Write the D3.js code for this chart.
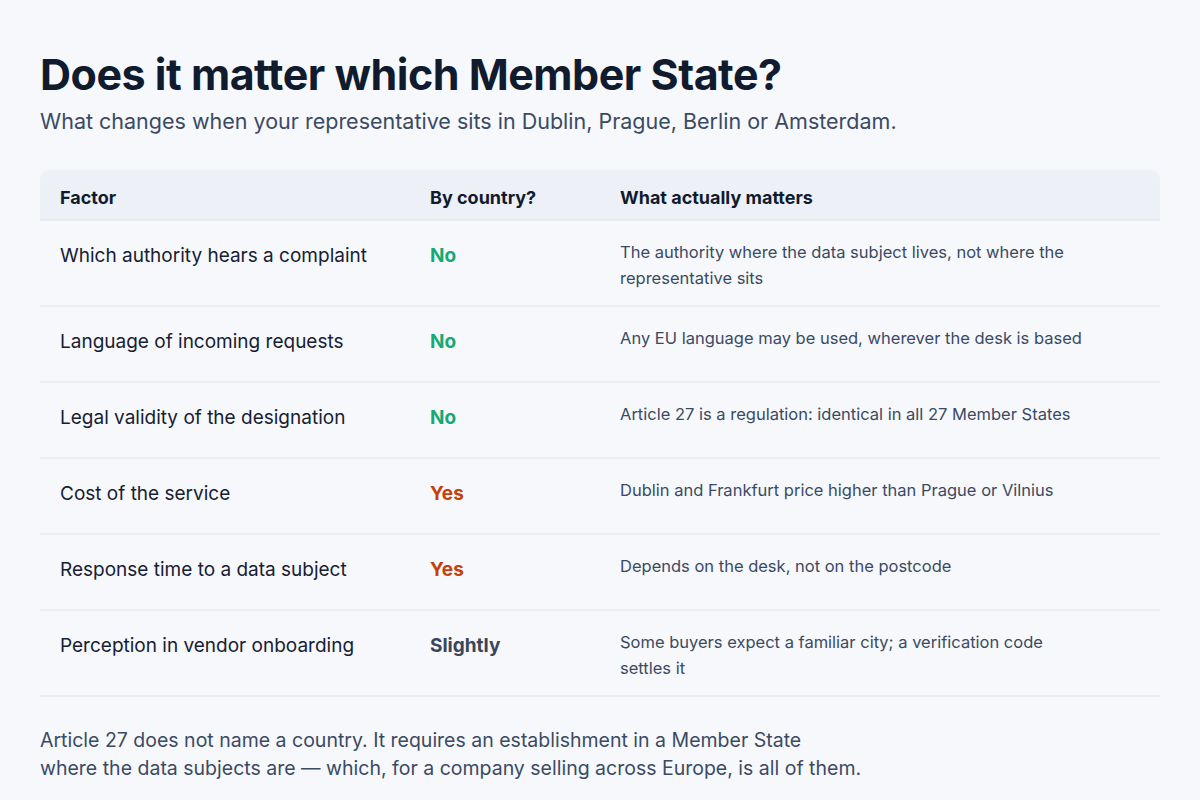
<!DOCTYPE html>
<html><head><meta charset="utf-8">
<script src="https://cdn.jsdelivr.net/npm/d3@7"></script>
<style>body{margin:0;background:#f6f8fb;}svg{display:block}</style>
</head><body>
<script>
const columns = ["Factor", "By country?", "What actually matters"];
const factors = ["Which authority hears a complaint","Language of incoming requests","Legal validity of the designation","Cost of the service","Response time to a data subject","Perception in vendor onboarding"];
const answers = ["No","No","No","Yes","Yes","Slightly"];
const notes = [
 ["The authority where the data subject lives, not where the","representative sits"],
 ["Any EU language may be used, wherever the desk is based"],
 ["Article 27 is a regulation: identical in all 27 Member States"],
 ["Dublin and Frankfurt price higher than Prague or Vilnius"],
 ["Depends on the desk, not on the postcode"],
 ["Some buyers expect a familiar city; a verification code","settles it"]
];
const title = "Does it matter which Member State?";
const subtitle = "What changes when your representative sits in Dublin, Prague, Berlin or Amsterdam.";
const footer = ["Article 27 does not name a country. It requires an establishment in a Member State","where the data subjects are — which, for a company selling across Europe, is all of them."];
const answerColor = {No:"#17a974", Yes:"#c2410c", Slightly:"#3b4658"};

const W=1200,H=800, F="Inter, 'Noto Sans', sans-serif";
const svg=d3.select("body").append("svg").attr("width",W).attr("height",H);
svg.append("rect").attr("width",W).attr("height",H).attr("fill","#f6f8fb");
svg.append("text").attr("x",40).attr("y",90).text(title).attr("font-family",F).attr("font-weight",700).attr("font-size",43).attr("fill","#111b2e").attr("letter-spacing",-0.5);
svg.append("text").attr("x",40).attr("y",129).text(subtitle).attr("font-family",F).attr("font-size",21.5).attr("fill","#3b4a63");

const x=d3.scaleOrdinal().domain(columns).range([60,430,620]);
const left=40,right=1160,headTop=170,headH=50;
// header
svg.append("path").attr("d",`M${left},${headTop+headH}V${headTop+10}Q${left},${headTop} ${left+10},${headTop}H${right-10}Q${right},${headTop} ${right},${headTop+10}V${headTop+headH}Z`).attr("fill","#edf1f7");
svg.selectAll(".h").data(columns).join("text").attr("x",d=>x(d)).attr("y",headTop+34).text(d=>d)
 .attr("font-family",F).attr("font-weight",700).attr("font-size",18).attr("fill","#111b2e");
svg.append("line").attr("x1",left).attr("x2",right).attr("y1",headTop+headH).attr("y2",headTop+headH).attr("stroke","#dde3ec");

const heights=notes.map(n=>n.length>1?86:76);
const tops=d3.cumsum([headTop+headH,...heights]);
const rows=svg.selectAll(".row").data(factors).join("g").attr("transform",(d,i)=>`translate(0,${tops[i]})`);
rows.append("line").attr("x1",left).attr("x2",right).attr("y1",(d,i)=>heights[i]).attr("y2",(d,i)=>heights[i]).attr("stroke","#dde3ec");
rows.append("text").attr("x",x(columns[0])).attr("y",42).text(d=>d).attr("font-family",F).attr("font-size",19).attr("fill","#172033");
rows.append("text").attr("x",x(columns[1])).attr("y",42).text((d,i)=>answers[i]).attr("font-family",F).attr("font-weight",700).attr("font-size",19).attr("fill",(d,i)=>answerColor[answers[i]]);
rows.append("text").attr("font-family",F).attr("font-size",16.5).attr("fill","#3b4a63")
 .selectAll("tspan").data((d,i)=>notes[i]).join("tspan").attr("x",x(columns[2])).attr("y",(d,j)=>38+j*26).text(d=>d);

svg.selectAll(".f").data(footer).join("text").attr("x",40).attr("y",(d,i)=>747+i*28).text(d=>d)
 .attr("font-family",F).attr("font-size",19.5).attr("fill","#3b4a63");
</script>
</body></html>
